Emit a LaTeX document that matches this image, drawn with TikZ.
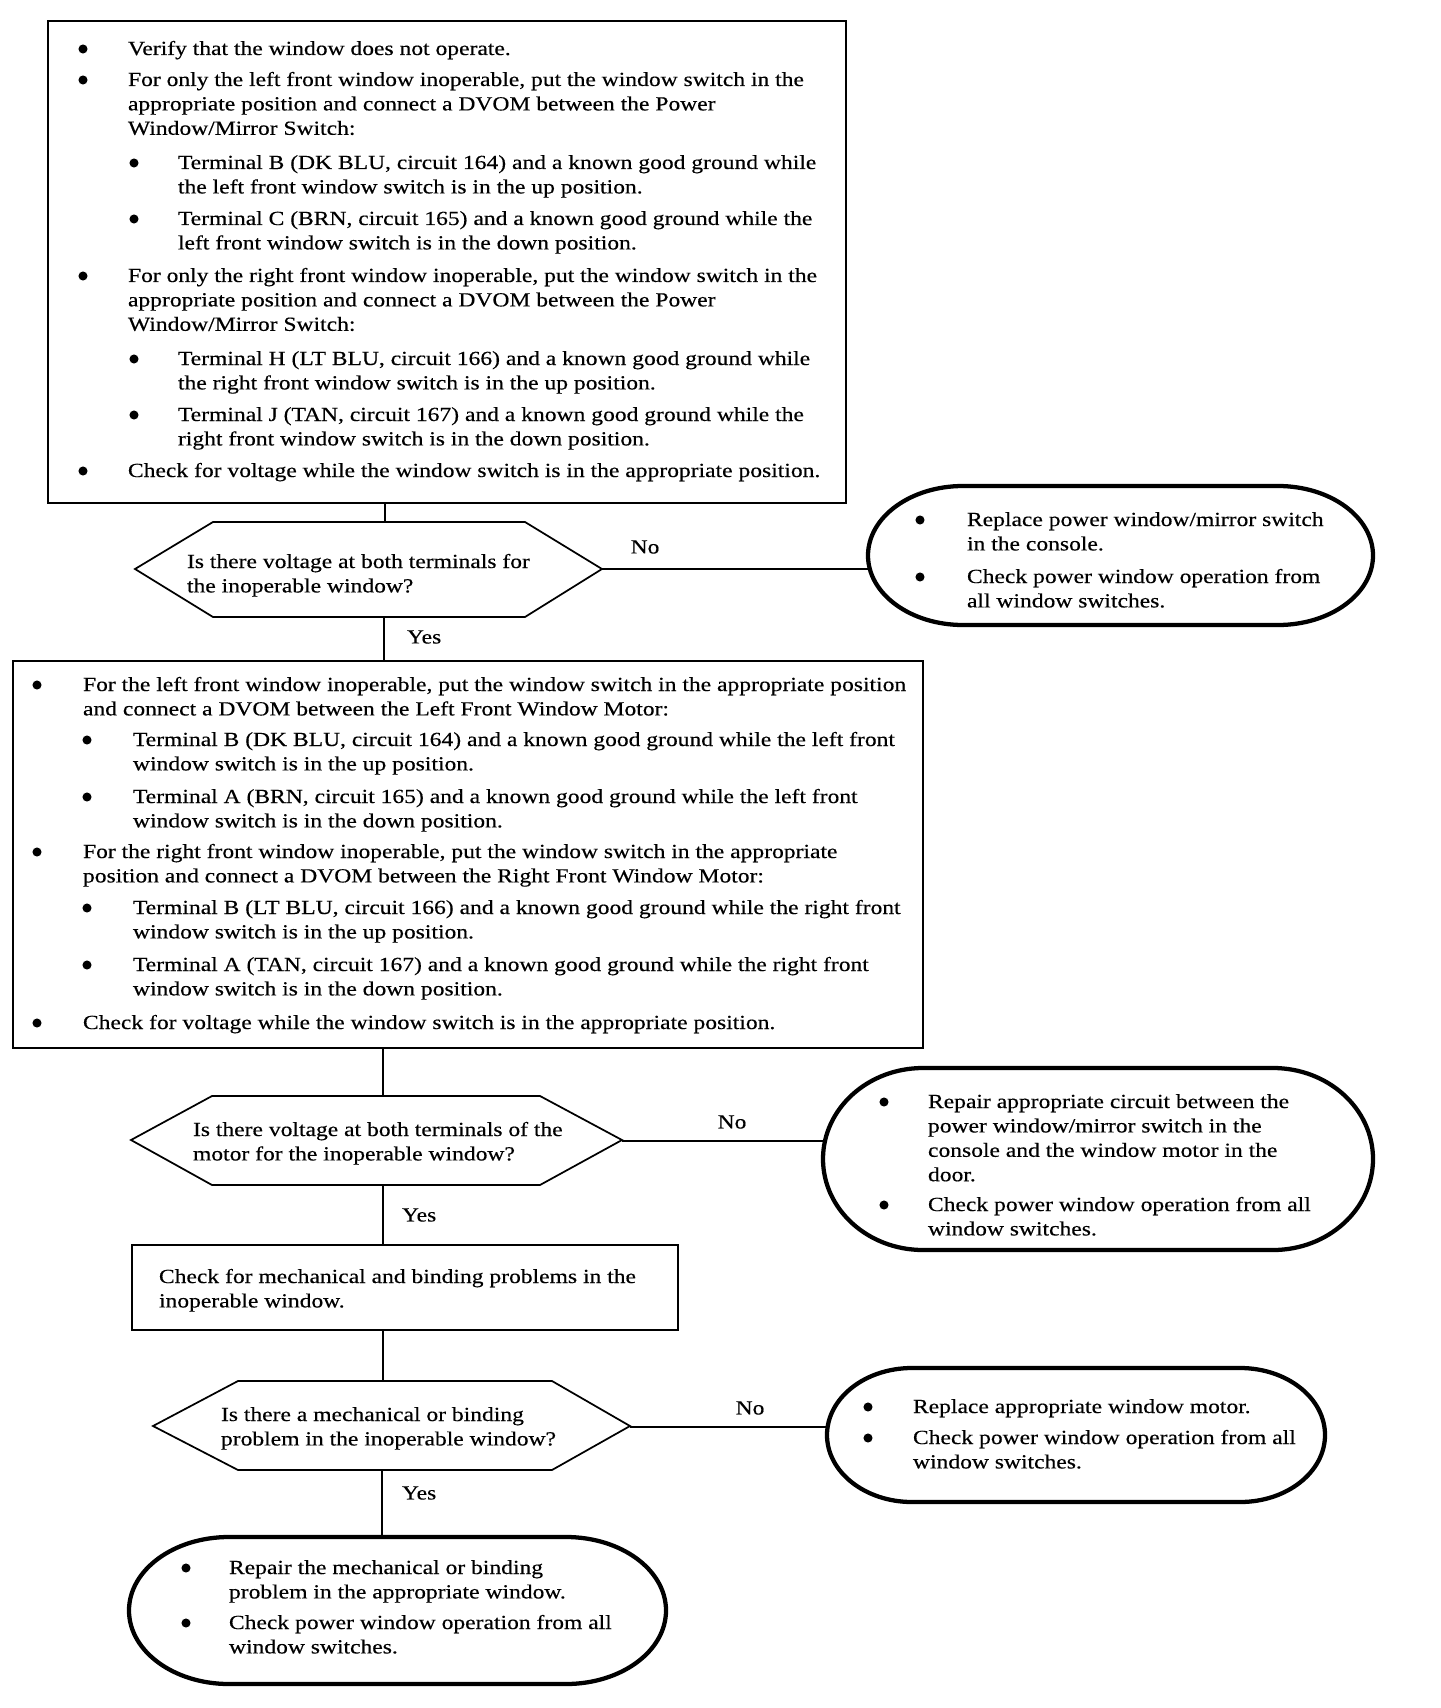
\documentclass[tikz,border=0pt]{standalone}
\usepackage{fontspec}
\setmainfont{Liberation Serif}[FakeStretch=1.178,FakeBold=0.4]
\usetikzlibrary{fit}

\newcommand\lns[1]{\begin{tabular}[t]{@{}l@{}}#1\end{tabular}}
% #1 name, #2 bullet x, #3 text x, #4 first-line centre y, #5 lines
\newcommand\itm[5]{%
  \fill[bul] (#2,#4) circle[radius=3.4pt];
  \node[txt] (#1) at (#3,#4+6) {\lns{#5}};}
% #1 name, #2 x0, #3 y0, #4 x1, #5 y1, #6 cap x-radius (px)
\newcommand\ovalshape[6]{%
  \draw[ovalline] (#2+#6,#3) -- (#4-#6,#3)
    arc[start angle=90,end angle=-90,x radius={#6*0.75pt},y radius={(#5-#3)*0.375pt}]
    -- (#2+#6,#5)
    arc[start angle=270,end angle=90,x radius={#6*0.75pt},y radius={(#5-#3)*0.375pt}]
    -- cycle;
  \coordinate (#1-w) at (#2,{(#3+#5)/2});}

\tikzset{
  txt/.style={anchor=base west, inner sep=0pt, outer sep=0pt},
  boxline/.style={draw=black, line width=1.5pt, inner sep=0pt},
  hexline/.style={draw=black, line width=1.3pt, line join=miter},
  ovalline/.style={draw=black, line width=3.2pt},
  conn/.style={draw=black, line width=1.2pt},
  lbl/.style={inner sep=0pt, outer sep=0pt},
  bul/.style={fill=black},
}

\begin{document}
\begin{tikzpicture}[x=0.75pt,y=-0.75pt,font=\fontsize{15}{18.3}\selectfont]
\path[use as bounding box, fill=white] (0,0) rectangle (1440,1708);

% ---------- Box 1 ----------
\node[boxline, fit={(48,21) (846,503)}] (b1) {};
\itm{b1i1}{83}{128}{49}{Verify that the window does not operate.}
\itm{b1i2}{83}{128}{80}{For only the left front window inoperable, put the window switch in the\\appropriate position and connect a DVOM between the Power\\Window/Mirror Switch:}
\itm{b1s1}{134}{178}{163}{Terminal B (DK BLU, circuit 164) and a known good ground while\\the left front window switch is in the up position.}
\itm{b1s2}{134}{178}{219}{Terminal C (BRN, circuit 165) and a known good ground while the\\left front window switch is in the down position.}
\itm{b1i3}{83}{128}{276}{For only the right front window inoperable, put the window switch in the\\appropriate position and connect a DVOM between the Power\\Window/Mirror Switch:}
\itm{b1s3}{134}{178}{359}{Terminal H (LT BLU, circuit 166) and a known good ground while\\the right front window switch is in the up position.}
\itm{b1s4}{134}{178}{415}{Terminal J (TAN, circuit 167) and a known good ground while the\\right front window switch is in the down position.}
\itm{b1i4}{83}{128}{471}{Check for voltage while the window switch is in the appropriate position.}

% ---------- Decision 1 ----------
\draw[hexline] (135,569) -- (213,522) -- (525,522) -- (602,569) -- (525,617) -- (213,617) -- cycle;
\node[txt] (h1) at (187,568) {\lns{Is there voltage at both terminals for\\the inoperable window?}};
\coordinate (h1n) at (385,522);
\coordinate (h1s) at (384,617);
\coordinate (h1e) at (602,569);
\draw[conn] (b1.south -| h1n) -- (h1n);

% ---------- Oval 1 ----------
\ovalshape{o1}{868}{486}{1373}{625}{95}
\itm{o1i1}{920}{967}{520}{Replace power window/mirror switch\\in the console.}
\itm{o1i2}{920}{967}{577}{Check power window operation from\\all window switches.}
\draw[conn] (h1e) -- (o1-w |- h1e);
\node[lbl] (no1) at (645,547) {No};

% ---------- Box 2 ----------
\node[boxline, fit={(13,661) (923,1048)}] (b2) {};
\draw[conn] (h1s) -- (b2.north -| h1s);
\node[lbl, anchor=west] (yes1) at (407,637) {Yes};
\itm{b2i1}{37}{83}{685}{For the left front window inoperable, put the window switch in the appropriate position\\and connect a DVOM between the Left Front Window Motor:}
\itm{b2s1}{87}{133}{740}{Terminal B (DK BLU, circuit 164) and a known good ground while the left front\\window switch is in the up position.}
\itm{b2s2}{87}{133}{797}{Terminal A (BRN, circuit 165) and a known good ground while the left front\\window switch is in the down position.}
\itm{b2i2}{37}{83}{852}{For the right front window inoperable, put the window switch in the appropriate\\position and connect a DVOM between the Right Front Window Motor:}
\itm{b2s3}{87}{133}{908}{Terminal B (LT BLU, circuit 166) and a known good ground while the right front\\window switch is in the up position.}
\itm{b2s4}{87}{133}{965}{Terminal A (TAN, circuit 167) and a known good ground while the right front\\window switch is in the down position.}
\itm{b2i3}{37}{83}{1023}{Check for voltage while the window switch is in the appropriate position.}

% ---------- Decision 2 ----------
\draw[hexline] (131,1140) -- (212,1096) -- (540,1096) -- (622,1140) -- (540,1185) -- (212,1185) -- cycle;
\node[txt] (h2) at (193,1136) {\lns{Is there voltage at both terminals of the\\motor for the inoperable window?}};
\coordinate (h2n) at (383,1096);
\coordinate (h2s) at (383,1185);
\coordinate (h2e) at (622,1141);
\draw[conn] (b2.south -| h2n) -- (h2n);

% ---------- Oval 2 ----------
\ovalshape{o2}{823}{1068}{1373}{1250}{100}
\itm{o2i1}{884}{928}{1102}{Repair appropriate circuit between the\\power window/mirror switch in the\\console and the window motor in the\\door.}
\itm{o2i2}{884}{928}{1205}{Check power window operation from all\\window switches.}
\draw[conn] (h2e) -- (o2-w |- h2e);
\node[lbl] (no2) at (732,1122) {No};

% ---------- Box 3 ----------
\node[boxline, fit={(132,1245) (678,1330)}] (b3) {};
\draw[conn] (h2s) -- (b3.north -| h2s);
\node[lbl, anchor=west] (yes2) at (402,1215) {Yes};
\node[txt] (b3t) at (159,1283) {\lns{Check for mechanical and binding problems in the\\inoperable window.}};

% ---------- Decision 3 ----------
\draw[hexline] (153,1426) -- (238,1381) -- (552,1381) -- (630,1426) -- (552,1470) -- (238,1470) -- cycle;
\node[txt] (h3) at (221,1421) {\lns{Is there a mechanical or binding\\problem in the inoperable window?}};
\coordinate (h3n) at (383,1381);
\coordinate (h3s) at (382,1470);
\coordinate (h3e) at (630,1427);
\draw[conn] (b3.south -| h3n) -- (h3n);

% ---------- Oval 3 ----------
\ovalshape{o3}{827}{1368}{1325}{1502}{85}
\itm{o3i1}{868}{913}{1407}{Replace appropriate window motor.}
\itm{o3i2}{868}{913}{1438}{Check power window operation from all\\window switches.}
\draw[conn] (h3e) -- (o3-w |- h3e);
\node[lbl] (no3) at (750,1408) {No};

% ---------- Oval 4 ----------
\ovalshape{o4}{129}{1537}{666}{1684}{100}
\coordinate (o4n) at (382,1537);
\draw[conn] (h3s) -- (o4n);
\node[lbl, anchor=west] (yes3) at (402,1493) {Yes};
\itm{o4i1}{186}{229}{1568}{Repair the mechanical or binding\\problem in the appropriate window.}
\itm{o4i2}{186}{229}{1623}{Check power window operation from all\\window switches.}
\end{tikzpicture}
\end{document}
